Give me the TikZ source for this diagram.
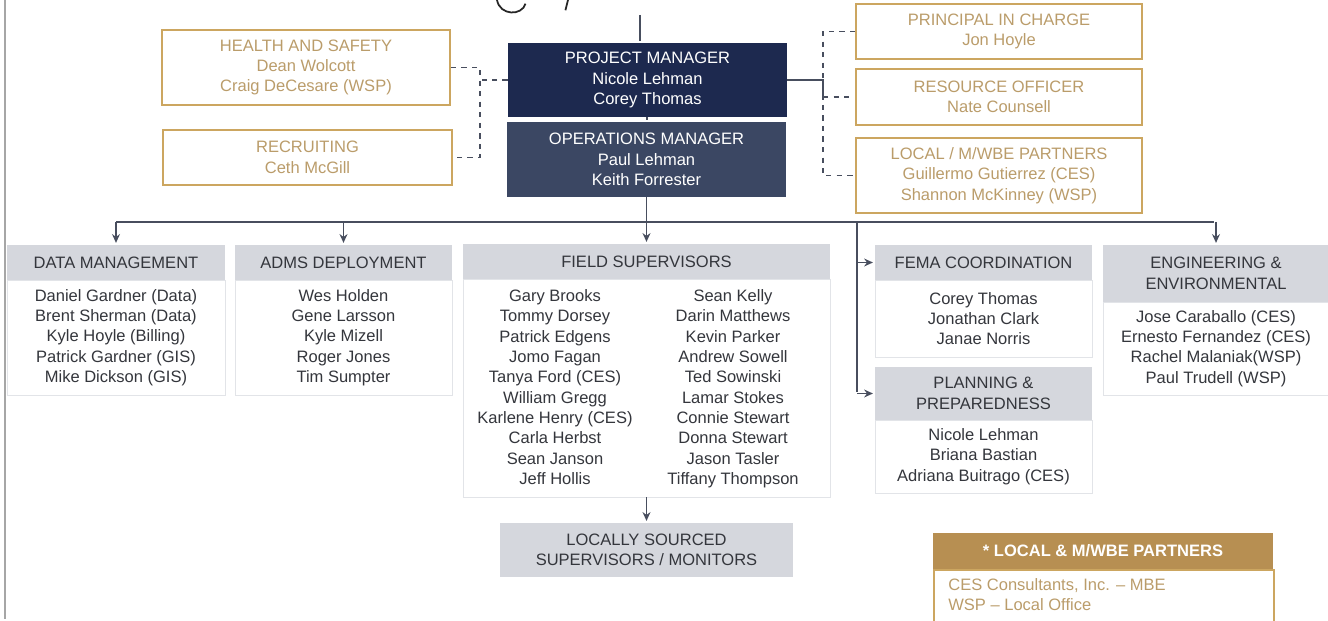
\documentclass[tikz,border=0pt]{standalone}
\usepackage{fontspec}
\setmainfont{Liberation Sans}
\usepackage{xcolor}
\usetikzlibrary{arrows.meta}
\definecolor{gold}{RGB}{204,166,96}
\definecolor{goldtext}{RGB}{186,156,106}
\definecolor{navy}{RGB}{29,41,79}
\definecolor{slate}{RGB}{59,71,99}
\definecolor{headgray}{RGB}{213,215,221}
\definecolor{bodygray}{RGB}{226,228,232}
\definecolor{legendgold}{RGB}{183,143,82}
\definecolor{linegray}{RGB}{72,78,94}
\definecolor{inkgray}{RGB}{52,54,60}

\begin{document}
\begin{tikzpicture}[
            x = 0.02cm, y = -0.02cm, % one unit = one pixel of the page
            > = {Stealth[length=5pt, width=4.5pt]}, % arrow head style
            shorten > = 1pt, % don't touch arrow head to node
            font = \fontsize{9.4}{11.6}\selectfont,
        ]

        \tikzstyle{goldbox}=[
            draw = gold,
            line width = 1.1pt,
            text = goldtext,
            align = center,
            inner sep = 0pt
        ]
        \tikzstyle{darkbox}=[
            text = white,
            align = center,
            inner sep = 0pt
        ]
        \tikzstyle{head}=[
            fill = headgray,
            text = inkgray,
            align = center,
            inner sep = 0pt
        ]
        \tikzstyle{body}=[
            draw = bodygray,
            fill = white,
            text = inkgray,
            align = center,
            inner sep = 0pt
        ]
        \tikzstyle{link}=[draw = linegray, line width = 0.9pt]

  \useasboundingbox (0,0) rectangle (1328,621);
  \draw[gray!70, line width=1.2pt] (5,0) -- (5,621);

  % handwritten mark at the top
  \draw[black!85, line width=1pt] (497,0) .. controls (500,16) and (522,16) .. (526,2);
  \draw[black!85, line width=1pt] (568,0) -- (565,12);

  % top of the chart
  \node[darkbox, fill=navy, minimum width=5.58cm, minimum height=1.48cm] (pm) at (647.5,80)
    {PROJECT MANAGER\\Nicole Lehman\\Corey Thomas};
  \node[darkbox, fill=slate, minimum width=5.58cm, minimum height=1.5cm] (om) at (646.5,159.5)
    {OPERATIONS MANAGER\\Paul Lehman\\Keith Forrester};

  \node[goldbox, minimum width=5.76cm, minimum height=1.5cm] (hs) at (306,67.5)
    {HEALTH AND SAFETY\\Dean Wolcott\\Craig DeCesare (WSP)};
  \node[goldbox, minimum width=5.78cm, minimum height=1.1cm] (rec) at (307.5,157.5)
    {RECRUITING\\Ceth McGill};

  \node[goldbox, minimum width=5.72cm, minimum height=1.1cm] (pic) at (999,31.5)
    {PRINCIPAL IN CHARGE\\Jon Hoyle};
  \node[goldbox, minimum width=5.72cm, minimum height=1.12cm] (ro) at (999,97)
    {RESOURCE OFFICER\\Nate Counsell};
  \node[goldbox, minimum width=5.72cm, minimum height=1.5cm] (lp) at (999,175.5)
    {LOCAL / M/WBE PARTNERS\\Guillermo Gutierrez (CES)\\Shannon McKinney (WSP)};

  % teams
  \node[head, minimum width=4.36cm, minimum height=0.7cm] (dmh) at (116,262.5) {DATA MANAGEMENT};
  \node[body, minimum width=4.36cm, minimum height=2.3cm] (dmb) at (116,337.5)
    {Daniel Gardner (Data)\\Brent Sherman (Data)\\Kyle Hoyle (Billing)\\Patrick Gardner (GIS)\\Mike Dickson (GIS)};

  \node[head, minimum width=4.34cm, minimum height=0.7cm] (adh) at (343.5,262.5) {ADMS DEPLOYMENT};
  \node[body, minimum width=4.34cm, minimum height=2.3cm] (adb) at (343.5,337.5)
    {Wes Holden\\Gene Larsson\\Kyle Mizell\\Roger Jones\\Tim Sumpter};

  \node[head, minimum width=7.34cm, minimum height=0.7cm] (fsh) at (646.5,261.5) {FIELD SUPERVISORS};
  \node[body, minimum width=7.34cm, minimum height=4.36cm] (fsb) at (646.5,388) {};
  \node[text=inkgray, align=center, inner sep=0pt, anchor=north] (fsl) at (555,289)
    {Gary Brooks\\Tommy Dorsey\\Patrick Edgens\\Jomo Fagan\\Tanya Ford (CES)\\William Gregg\\Karlene Henry (CES)\\Carla Herbst\\Sean Janson\\Jeff Hollis};
  \node[text=inkgray, align=center, inner sep=0pt, anchor=north] (fsr) at (733,289)
    {Sean Kelly\\Darin Matthews\\Kevin Parker\\Andrew Sowell\\Ted Sowinski\\Lamar Stokes\\Connie Stewart\\Donna Stewart\\Jason Tasler\\Tiffany Thompson};

  \node[head, minimum width=5.86cm, minimum height=1.08cm] (ls) at (646.5,550)
    {LOCALLY SOURCED\\SUPERVISORS / MONITORS};

  \node[head, minimum width=4.34cm, minimum height=0.7cm] (feh) at (983.5,262.5) {FEMA COORDINATION};
  \node[body, minimum width=4.34cm, minimum height=1.54cm] (feb) at (983.5,318.5)
    {Corey Thomas\\Jonathan Clark\\Janae Norris};

  \node[head, minimum width=4.34cm, minimum height=1.06cm] (pph) at (983.5,393.5)
    {PLANNING \&\\PREPAREDNESS};
  \node[body, minimum width=4.34cm, minimum height=1.46cm] (ppb) at (983.5,456.5)
    {Nicole Lehman\\Briana Bastian\\Adriana Buitrago (CES)};

  \node[head, minimum width=4.52cm, minimum height=1.14cm] (enh) at (1216,273.5)
    {ENGINEERING \&\\ENVIRONMENTAL};
  \node[body, minimum width=4.52cm, minimum height=1.86cm] (enb) at (1216,348.5)
    {Jose Caraballo (CES)\\Ernesto Fernandez (CES)\\Rachel Malaniak(WSP)\\Paul Trudell (WSP)};

  % legend
  \node[fill=legendgold, text=white, font=\fontsize{9.4}{11.6}\selectfont\bfseries,
        minimum width=6.8cm, minimum height=0.72cm, inner sep=0pt] (lgh) at (1103,551)
    {* LOCAL \& M/WBE PARTNERS};
  \node[draw=gold, line width=1.1pt, anchor=north west,
        minimum width=6.8cm, minimum height=1.12cm, inner sep=0pt] (lgb) at (933,569) {};
  \node[text=goldtext, align=left, anchor=north west, inner sep=0pt] (lgt) at (948,578)
    {CES Consultants, Inc. -- MBE\\WSP -- Local Office};

  % connectors
  \coordinate (lj) at (480,0);
  \coordinate (rj) at (823,0);
  \coordinate (bus) at (0,222);
  \coordinate (vj) at (857,0);

  \draw[link] (640,15) -- (640,15 |- pm.north);
  \draw[link] (647,0 |- pm.south) -- (647,0 |- om.north);

  \draw[link, dashed] (hs.east) -| (lj |- rec.east) -- (rec.east);
  \draw[link, dashed] (pm.west) -- (pm.west -| lj);

  \draw[link] (pm.east) -| (rj |- ro.west);
  \draw[link, dashed] (pic.west) -| (rj |- lp.west) -- (lp.west);
  \draw[link, dashed] (rj |- ro.west) -- (ro.west);

  \draw[link] (dmh.north |- bus) -- (enh.north |- bus);
  \draw[link, ->] (dmh.north |- bus) -- (dmh.north);
  \draw[link, ->] (adh.north |- bus) -- (adh.north);
  \draw[link, ->] (om.south) -- (fsh.north);
  \draw[link, ->] (enh.north |- bus) -- (enh.north);
  \draw[link] (vj |- bus) -- (vj |- pph.west);
  \draw[link, ->] (vj |- feh.west) -- (feh.west);
  \draw[link, ->] (vj |- pph.west) -- (pph.west);
  \draw[link, ->] (fsb.south) -- (ls.north);

\end{tikzpicture}
\end{document}
